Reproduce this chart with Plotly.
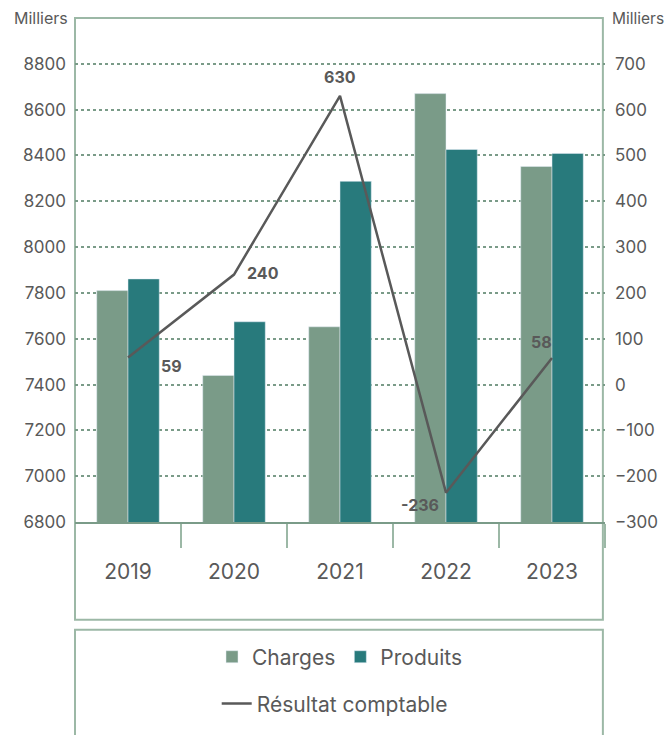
import plotly.graph_objects as go

# données (milliers d'euros)
annees = ["2019", "2020", "2021", "2022", "2023"]
charges = [7810, 7440, 7652, 8670, 8352]
produits = [7861, 7674, 8287, 8426, 8409]
resultat = [59, 240, 630, -236, 58]

# decalage des etiquettes du resultat (px)
lab_dx = [43, 29, 0, -26, -11]
lab_dy = [-8, 2, 19, -12, 16]

gris = "#595959"
vert_clair = "#7a9b88"
vert_fonce = "#287a7c"
cadre = "#9cb8a6"
police = "Inter"

fig = go.Figure()
fig.add_trace(go.Bar(x=annees, y=charges, name="Charges", marker_color=vert_clair,
                     legend="legend"))
fig.add_trace(go.Bar(x=annees, y=produits, name="Produits", marker_color=vert_fonce,
                     legend="legend"))
fig.add_trace(go.Scatter(x=annees, y=resultat, name="Résultat comptable", yaxis="y2",
                         mode="lines", line=dict(color=gris, width=2.5),
                         legend="legend2"))

# etiquettes du resultat (axe categoriel -> position = indice)
for i, (v, dx, dy) in enumerate(zip(resultat, lab_dx, lab_dy)):
    fig.add_annotation(x=i, y=v, yref="y2", text="<b>%d</b>" % v, showarrow=False,
                       xshift=dx, yshift=dy, font=dict(size=16, color=gris, family=police))

# "Milliers" de chaque cote
fig.add_annotation(x=0, y=1, xref="paper", yref="paper", text="Milliers", showarrow=False,
                   xanchor="right", yanchor="middle", xshift=-5, font=dict(size=16, color=gris))
fig.add_annotation(x=1, y=1, xref="paper", yref="paper", text="Milliers", showarrow=False,
                   xanchor="left", yanchor="middle", xshift=5, font=dict(size=15.5, color=gris))

# cadres (zone du graphique et legende)
fig.add_shape(type="rect", xref="paper", yref="paper", x0=0, x1=0.996, y0=-0.194, y1=1,
              line=dict(color=cadre, width=2), layer="below")
fig.add_shape(type="rect", xref="paper", yref="paper", x0=0, x1=0.996, y0=-0.45, y1=-0.214,
              line=dict(color=cadre, width=2), layer="below")

# la page a une marge de 8px -> figure de 664x727
fig.update_layout(
    width=664, height=727,
    margin=dict(l=67, r=67, t=10, b=213, autoexpand=False),
    paper_bgcolor="white", plot_bgcolor="white",
    font=dict(family=police, color=gris),
    barmode="group", bargap=0.41, bargroupgap=0,
    xaxis=dict(type="category", automargin=False, showline=True, linecolor=vert_clair,
               linewidth=1.5, ticks="outside", tickson="boundaries", ticklen=24,
               tickcolor=cadre, tickwidth=1.5, ticklabelstandoff=30,
               tickfont=dict(size=21, color=gris)),
    yaxis=dict(range=[6800, 9000], tickvals=list(range(6800, 8801, 200)), automargin=False,
               showgrid=True, gridcolor=vert_clair, gridwidth=2, griddash="dot",
               zeroline=False, showline=False, ticks="", ticklabelstandoff=8,
               tickfont=dict(size=17, color=gris)),
    yaxis2=dict(range=[-300, 800], tickvals=list(range(-300, 701, 100)), automargin=False,
                overlaying="y", side="right", showgrid=False, zeroline=False,
                showline=False, ticks="", ticklabelstandoff=9,
                tickfont=dict(size=17, color=gris)),
    legend=dict(orientation="h", x=0.5, xanchor="center", y=-0.268, yanchor="middle",
                font=dict(size=21, color=gris), bgcolor="rgba(0,0,0,0)"),
    legend2=dict(orientation="h", x=0.49, xanchor="center", y=-0.361, yanchor="middle",
                 font=dict(size=21, color=gris), bgcolor="rgba(0,0,0,0)"),
)

fig.write_html("out.html")
